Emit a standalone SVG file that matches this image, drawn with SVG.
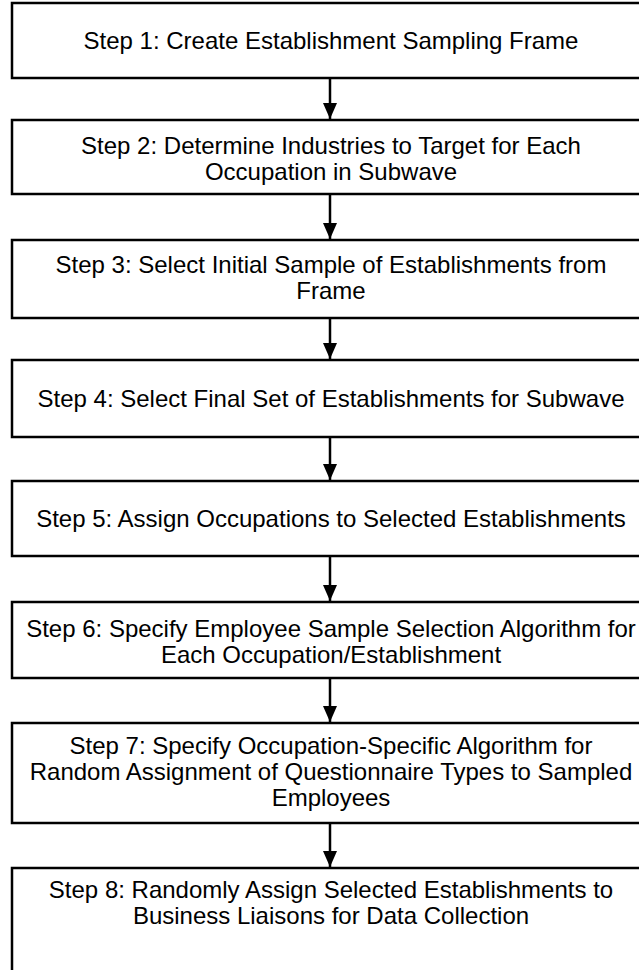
<svg xmlns="http://www.w3.org/2000/svg" width="639" height="970" viewBox="0 0 639 970">
<style>
.box{fill:#fff;stroke:#000;stroke-width:2.5}
.t{font-family:"Liberation Sans",Arial,sans-serif;font-size:24px;fill:#000;text-anchor:middle}
.c{stroke:#000;stroke-width:2.5;fill:none}
</style>
<defs>
<marker id="ah" markerWidth="16" markerHeight="14" refX="16" refY="7" orient="auto" markerUnits="userSpaceOnUse" viewBox="0 0 16 14">
<path d="M0,0 L16,7 L0,14 Z" fill="#000"/>
</marker>
</defs>
<rect width="639" height="970" fill="#fff"/>
<g id="connectors">
<line class="c" x1="330" y1="78" x2="330" y2="119" marker-end="url(#ah)"/>
<line class="c" x1="330" y1="194" x2="330" y2="239" marker-end="url(#ah)"/>
<line class="c" x1="330" y1="318" x2="330" y2="359" marker-end="url(#ah)"/>
<line class="c" x1="330" y1="437" x2="330" y2="480" marker-end="url(#ah)"/>
<line class="c" x1="330" y1="556" x2="330" y2="601" marker-end="url(#ah)"/>
<line class="c" x1="330" y1="678" x2="330" y2="722" marker-end="url(#ah)"/>
<line class="c" x1="330" y1="823" x2="330" y2="867" marker-end="url(#ah)"/>
</g>
<g id="step1"><rect class="box" x="12" y="3" width="640" height="75"/>
<text class="t" x="331" y="49">Step 1: Create Establishment Sampling Frame</text></g>
<g id="step2"><rect class="box" x="12" y="120" width="640" height="74"/>
<text class="t" x="331" y="154">Step 2: Determine Industries to Target for Each</text>
<text class="t" x="331" y="180">Occupation in Subwave</text></g>
<g id="step3"><rect class="box" x="12" y="240" width="640" height="78"/>
<text class="t" x="331" y="273">Step 3: Select Initial Sample of Establishments from</text>
<text class="t" x="331" y="299">Frame</text></g>
<g id="step4"><rect class="box" x="12" y="360" width="640" height="77"/>
<text class="t" x="331" y="407">Step 4: Select Final Set of Establishments for Subwave</text></g>
<g id="step5"><rect class="box" x="12" y="481" width="640" height="75"/>
<text class="t" x="331" y="527">Step 5: Assign Occupations to Selected Establishments</text></g>
<g id="step6"><rect class="box" x="12" y="602" width="640" height="76"/>
<text class="t" x="331" y="637">Step 6: Specify Employee Sample Selection Algorithm for</text>
<text class="t" x="331" y="663">Each Occupation/Establishment</text></g>
<g id="step7"><rect class="box" x="12" y="723" width="640" height="100"/>
<text class="t" x="331" y="754">Step 7: Specify Occupation-Specific Algorithm for</text>
<text class="t" x="331" y="780">Random Assignment of Questionnaire Types to Sampled</text>
<text class="t" x="331" y="806">Employees</text></g>
<g id="step8"><rect class="box" x="12" y="868" width="640" height="110"/>
<text class="t" x="331" y="898">Step 8: Randomly Assign Selected Establishments to</text>
<text class="t" x="331" y="924">Business Liaisons for Data Collection</text></g>
</svg>
